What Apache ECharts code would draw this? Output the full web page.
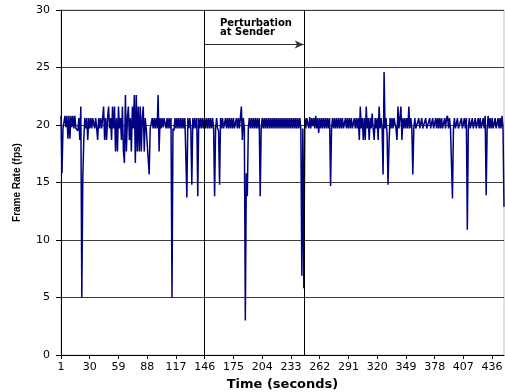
<!DOCTYPE html>
<html><head><meta charset="utf-8">
<script src="https://cdn.jsdelivr.net/npm/echarts@6/dist/echarts.min.js"></script>
<style>html,body{margin:0;padding:0;background:#fff;overflow:hidden}#c{width:505px;height:392px}</style>
</head><body><div id="c"></div>
<script>
// Frame rate (fps) per second
const frameRate = [
20.8,15.8,19.7,19.8,20.8,19.8,20.8,18.8,20.8,18.8,
20.8,19.8,20.8,19.7,20.8,19.7,19.7,19.5,20.6,18.7,
21.6,5.0,15.3,18.7,20.6,19.7,20.6,18.7,20.6,19.7,
20.6,19.7,20.6,20.6,19.7,20.6,19.7,18.7,20.6,19.7,
20.6,19.7,20.6,21.6,18.7,20.6,18.7,20.6,21.6,19.7,
20.6,18.7,21.6,19.7,21.6,17.7,20.6,17.7,21.6,19.7,
20.6,18.7,21.6,17.7,16.7,22.6,17.7,20.6,21.6,18.7,
20.6,17.7,21.6,19.7,22.6,16.7,22.6,17.7,21.6,17.7,
21.6,17.7,20.6,21.6,17.7,20.6,19.7,19.7,19.7,15.7,
19.7,19.7,20.6,19.7,20.6,19.7,20.6,19.7,22.6,17.7,
20.6,19.7,20.6,19.8,20.6,20.6,19.7,20.6,19.7,20.6,
19.7,20.6,5.0,19.7,19.5,20.6,19.7,20.6,19.7,20.6,
19.7,20.6,19.7,20.6,19.7,20.6,20.6,13.7,20.6,19.7,
20.6,19.7,14.8,20.6,19.7,20.6,19.7,20.6,13.8,20.6,
19.7,20.6,19.7,20.6,19.7,20.6,19.7,20.6,19.7,20.6,
19.7,20.6,19.7,20.6,19.7,13.8,19.7,20.6,19.7,19.5,
14.8,20.6,19.7,20.6,19.7,19.7,20.6,19.7,20.6,19.7,
20.6,19.7,20.6,19.7,20.6,19.7,19.7,20.6,19.7,20.6,
19.7,19.7,21.6,18.7,20.6,19.7,3.0,15.8,13.8,19.7,
20.6,19.7,20.6,19.7,20.6,19.7,20.6,19.7,20.6,19.7,
20.6,13.8,19.7,20.6,19.7,20.6,19.7,20.6,19.7,20.6,
19.7,20.6,19.7,20.6,19.7,20.6,19.7,20.6,19.7,20.6,
19.7,20.6,19.7,20.6,19.7,20.6,19.7,20.6,19.7,20.6,
19.7,20.6,19.7,20.6,19.7,20.6,19.7,20.6,19.7,20.6,
19.7,20.6,19.7,6.9,19.7,5.8,20.6,19.7,20.6,20.6,
19.7,20.7,19.7,20.6,19.9,20.6,19.7,20.8,19.7,20.6,
19.3,20.6,19.7,20.6,19.7,20.6,19.7,20.6,19.7,20.6,
19.7,20.6,14.7,19.7,20.6,19.7,20.6,19.7,20.6,19.7,
20.6,19.7,20.6,19.7,20.6,19.7,19.7,20.6,19.7,20.6,
19.7,20.6,19.7,20.6,19.7,19.7,20.6,19.7,20.6,19.7,
20.6,18.7,21.6,19.7,20.6,18.7,20.6,18.7,21.6,19.7,
20.6,18.7,20.6,19.7,21.0,19.7,18.7,20.6,19.7,20.6,
18.7,21.6,19.7,20.6,19.7,15.7,24.6,19.7,20.6,19.2,
14.8,18.4,20.6,19.7,20.6,19.7,20.6,20.6,19.7,18.7,
21.6,19.7,20.6,21.6,18.7,20.6,19.7,20.6,19.7,20.6,
19.7,21.6,19.7,20.6,19.7,15.7,19.7,20.6,19.7,19.7,
19.7,20.6,19.7,19.7,20.6,19.7,19.7,19.7,20.6,19.7,
19.7,19.7,20.6,19.7,19.7,20.6,19.7,19.7,20.6,19.7,
20.6,19.7,20.6,19.7,20.6,19.7,19.7,20.6,19.7,20.6,
20.8,19.7,20.6,19.7,19.7,13.6,19.7,20.6,19.7,19.7,
20.6,19.7,19.7,19.7,20.6,19.7,19.7,20.6,19.7,20.6,
10.9,19.7,20.6,19.7,19.7,20.6,19.7,19.7,20.6,19.7,
19.7,20.6,19.7,20.6,19.7,19.7,20.6,19.7,20.8,13.9,
19.7,20.8,19.7,20.6,19.7,20.6,19.7,19.7,20.6,19.7,
19.7,20.6,19.7,20.6,19.7,20.8,19.7,12.9
];
// time in seconds (1..N)
const timeSeconds = frameRate.map((_, i) => String(i + 1));
const perturbStart = '146';
const perturbEnd = '246';
const arrowLevel = 27.0;
const yTicks = [0, 5, 10, 15, 20, 25, 30];

const chart = echarts.init(document.getElementById('c'), null, {renderer: 'canvas', width: 505, height: 392});
chart.setOption({
  animation: false,
  backgroundColor: '#fff',
  grid: {left: 61, width: 443, top: 10, height: 345, containLabel: false, outerBoundsMode: 'none',
         show: true, borderColor: '#c0c0c0', borderWidth: 1},
  xAxis: {
    type: 'category', data: timeSeconds, boundaryGap: false,
    name: 'Time (seconds)', nameLocation: 'middle', nameGap: 21,
    nameTextStyle: {fontFamily: 'DejaVu Sans', fontWeight: 'bold', fontSize: 13, color: '#000'},
    axisLine: {lineStyle: {color: '#000', width: 1}},
    axisTick: {interval: 28, length: 4, lineStyle: {color: '#000'}},
    axisLabel: {interval: 28, margin: 7, fontFamily: 'DejaVu Sans', fontSize: 11, color: '#000'},
    splitLine: {show: false}
  },
  yAxis: {
    type: 'value', min: yTicks[0], max: yTicks[yTicks.length - 1], interval: 5,
    name: 'Frame Rate (fps)', nameLocation: 'middle', nameGap: 39, nameRotate: 90,
    nameTextStyle: {fontFamily: 'Liberation Sans', fontWeight: 'bold', fontSize: 10, color: '#000'},
    axisLine: {show: true, lineStyle: {color: '#000', width: 1}},
    axisTick: {show: true, length: 5, lineStyle: {color: '#000'}},
    axisLabel: {margin: 11, fontFamily: 'DejaVu Sans', fontSize: 11, color: '#000'},
    splitLine: {lineStyle: {color: '#3c3c3c', width: 1}}
  },
  graphic: [{
    type: 'text', left: 220, top: 18,
    style: {text: 'Perturbation\nat Sender', fontFamily: 'DejaVu Sans', fontWeight: 'bold', fontSize: 10, lineHeight: 9, fill: '#000'}
  }],
  series: [{
    type: 'line', data: frameRate, showSymbol: false, symbol: 'none',
    lineStyle: {color: '#000080', width: 1.5},
    markLine: {
      silent: true, animation: false,
      label: {show: false},
      data: [
        {xAxis: perturbStart, symbol: 'none', lineStyle: {color: '#000', width: 1, type: 'solid'}},
        {xAxis: perturbEnd, symbol: 'none', lineStyle: {color: '#000', width: 1, type: 'solid'}},
        [{coord: [perturbStart, arrowLevel], symbol: 'none'},
         {coord: [perturbEnd, arrowLevel], symbol: 'arrow', symbolSize: [6, 9], lineStyle: {color: '#333', width: 1, type: 'solid'}}]
      ],
      symbol: ['none', 'none']
    }
  }]
});
</script></body></html>
